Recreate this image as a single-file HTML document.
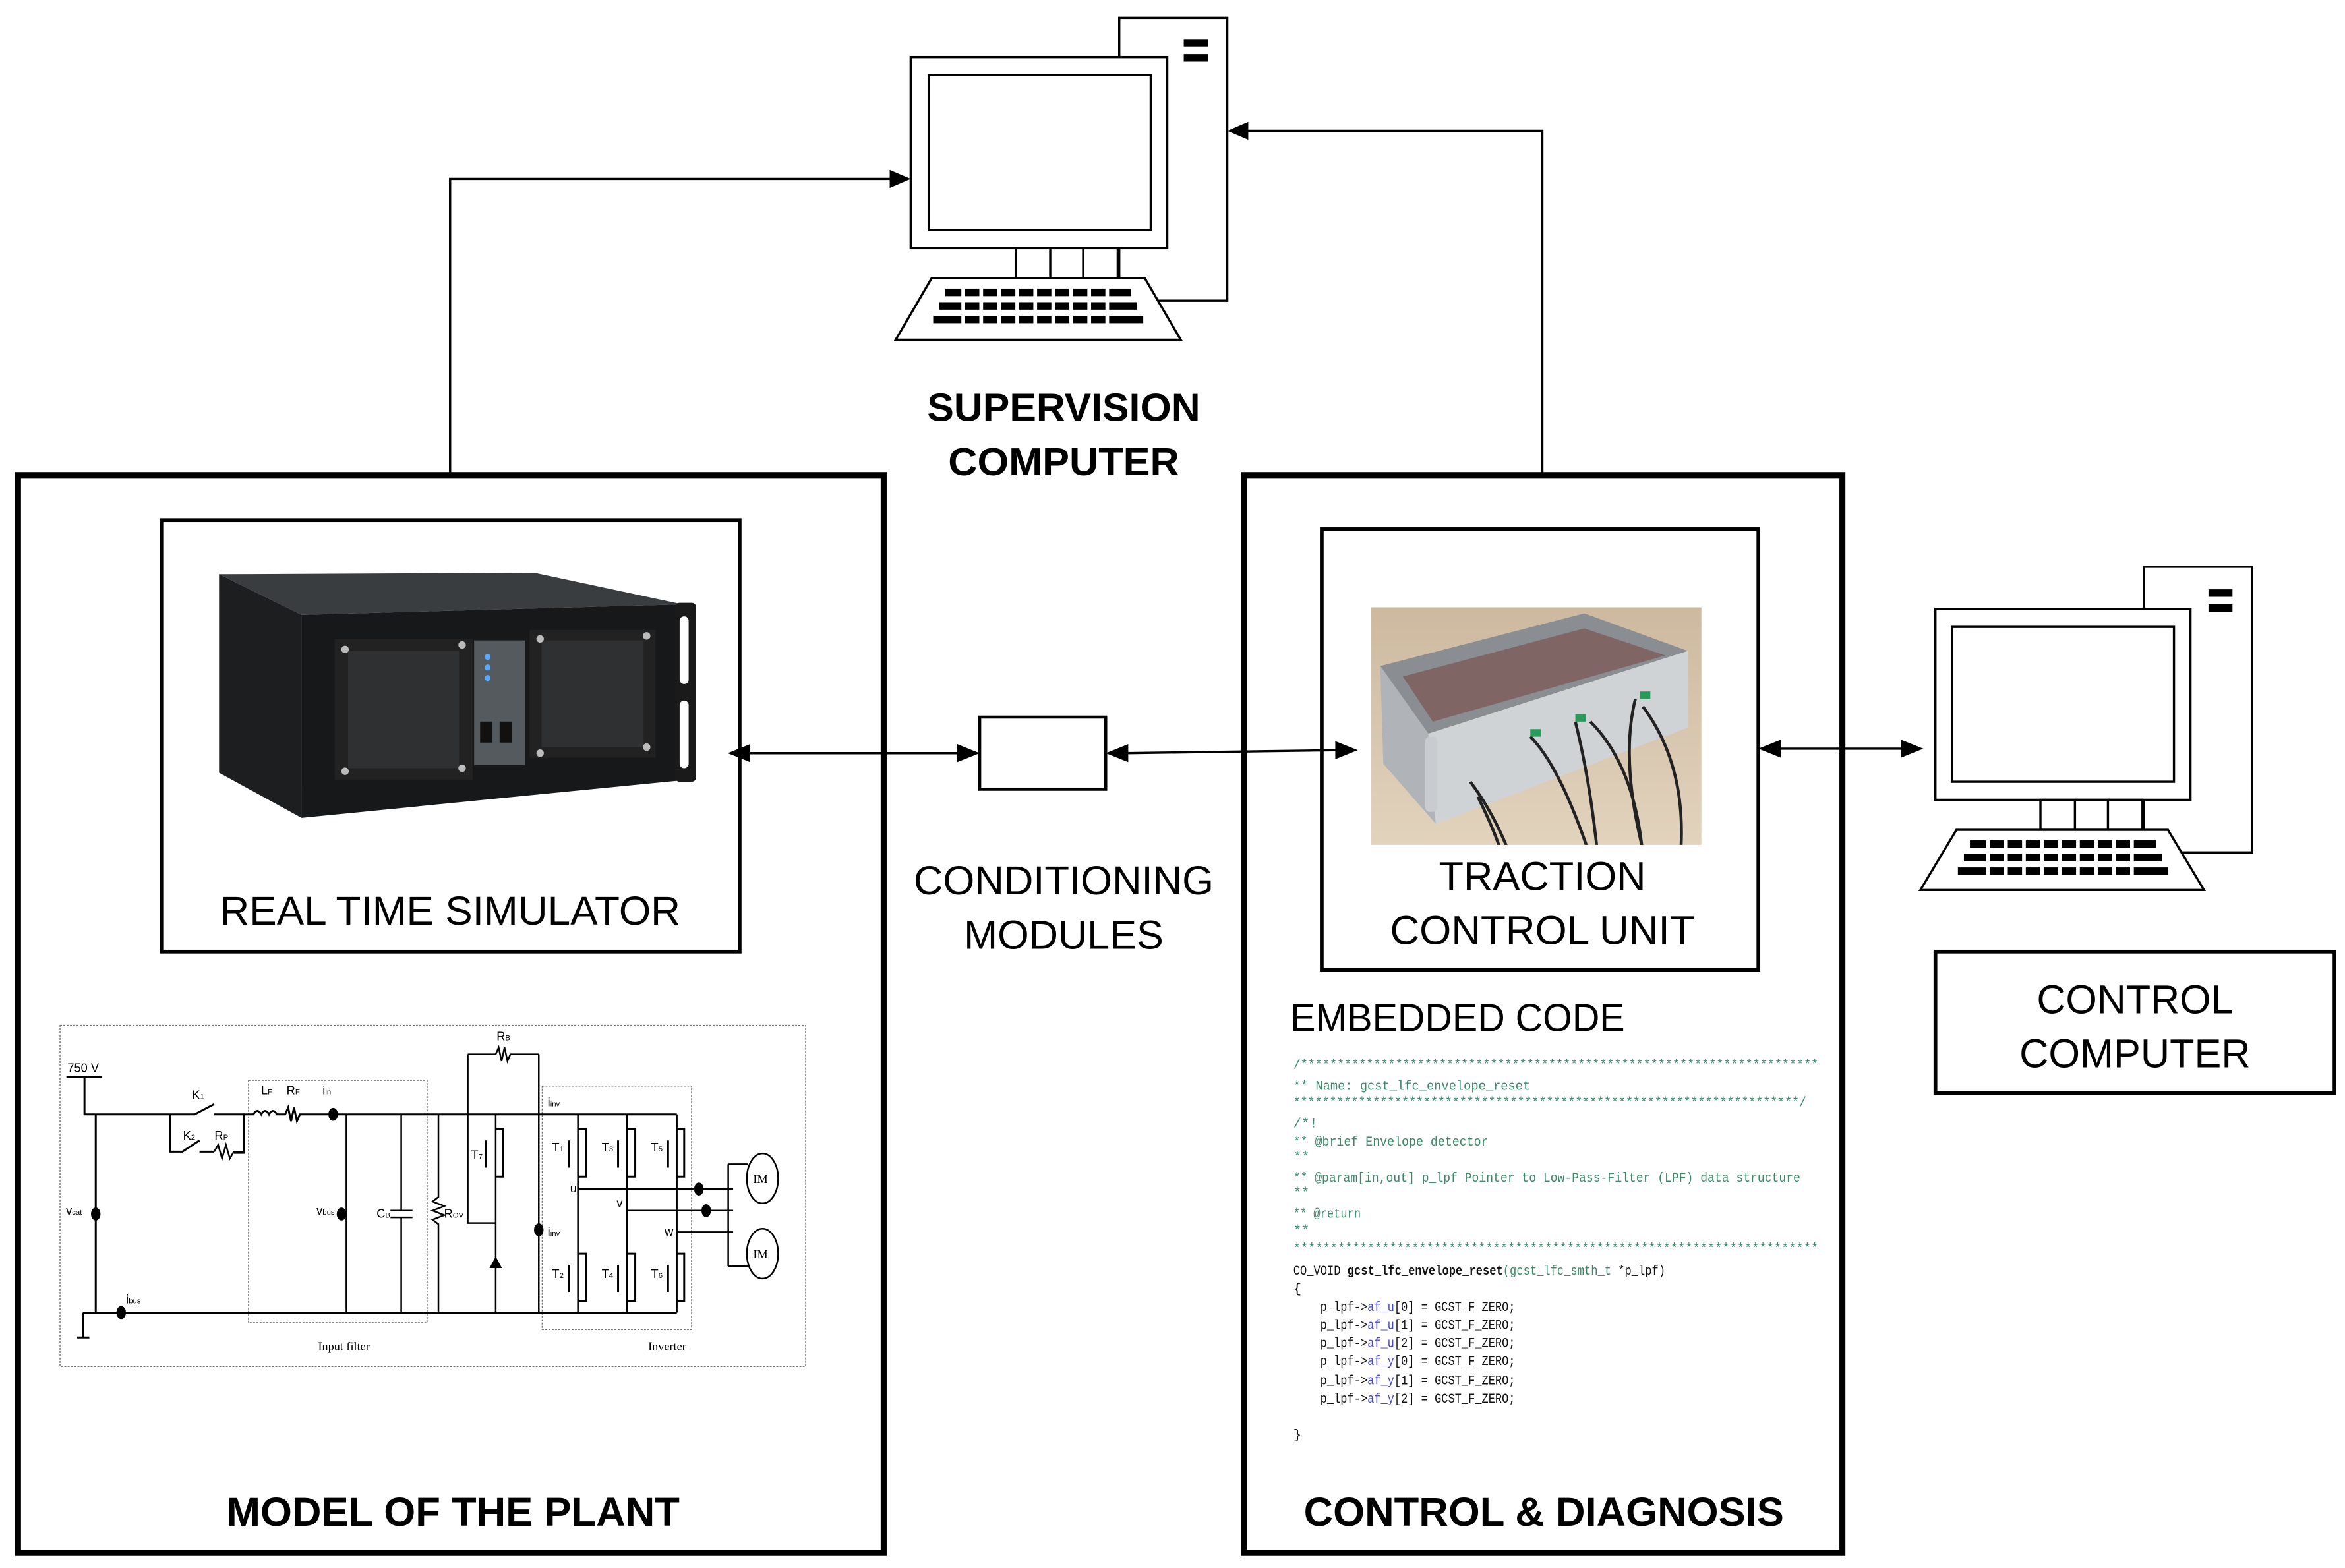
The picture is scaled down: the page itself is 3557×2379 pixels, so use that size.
<!DOCTYPE html>
<html><head><meta charset="utf-8"><style>
html,body{margin:0;padding:0;background:#fff;}
svg{display:block;}
text{font-family:"Liberation Sans",sans-serif;}
.c text{font-family:"Liberation Mono",monospace;font-size:9px;}
.g{fill:#3a8a6a}.k{fill:#111}.p{fill:#4848c0}
.ck path,.ck line,.ck rect,.ck ellipse,.ck polyline{vector-effect:non-scaling-stroke;}
</style></head><body>
<svg width="3557" height="2379" viewBox="0 0 1563 1043" preserveAspectRatio="none" xmlns="http://www.w3.org/2000/svg">
<rect x="0" y="0" width="1563" height="1043" fill="#fff"/>

<!-- Supervision computer -->
<g stroke="#000" stroke-width="1.5" fill="#fff">
  <rect x="746" y="12" width="72" height="188"/>
  <rect x="607" y="38" width="171" height="127"/>
  <rect x="619" y="50" width="148" height="103"/>
  <rect x="677" y="165" width="68" height="20"/>
  <line x1="700" y1="165" x2="700" y2="185"/><line x1="722" y1="165" x2="722" y2="185"/>
  <polygon points="621,185 763,185 787,226 597,226"/>
</g>
<rect x="789" y="26" width="16" height="5" fill="#000"/><rect x="789" y="36" width="16" height="5" fill="#000"/>
<g fill="#000">
  <rect x="630" y="192" width="124" height="5"/><rect x="626" y="201" width="132" height="5"/><rect x="622" y="210" width="140" height="5"/>
</g>
<g stroke="#fff" stroke-width="2.5">
  <line x1="642" y1="190" x2="642" y2="216"/><line x1="654" y1="190" x2="654" y2="216"/><line x1="666" y1="190" x2="666" y2="216"/><line x1="678" y1="190" x2="678" y2="216"/><line x1="690" y1="190" x2="690" y2="216"/><line x1="702" y1="190" x2="702" y2="216"/><line x1="714" y1="190" x2="714" y2="216"/><line x1="726" y1="190" x2="726" y2="216"/><line x1="738" y1="190" x2="738" y2="216"/>
</g>
<text x="709" y="280" font-size="26" font-weight="bold" text-anchor="middle" textLength="182" lengthAdjust="spacingAndGlyphs">SUPERVISION</text>
<text x="709" y="316" font-size="26" font-weight="bold" text-anchor="middle" textLength="154" lengthAdjust="spacingAndGlyphs">COMPUTER</text>

<g stroke="#000" stroke-width="1.5" fill="none">
  <polyline points="300,315 300,119 596,119"/>
  <polyline points="1028,315 1028,87 829,87"/>
  <line x1="498" y1="501" x2="640" y2="501"/>
  <line x1="750" y1="501" x2="892" y2="499"/>
  <line x1="1185" y1="498" x2="1268" y2="498"/>
</g>
<g fill="#000">
  <polygon points="607,119 593,113 593,125"/>
  <polygon points="818,87 832,81 832,93"/>
  <polygon points="485,501 500,495 500,507"/>
  <polygon points="653,501 638,495 638,507"/>
  <polygon points="737,501 752,495 752,507"/>
  <polygon points="905,499 890,493 890,505"/>
  <polygon points="1172,498 1187,492 1187,504"/>
  <polygon points="1282,498 1267,492 1267,504"/>
</g>

<rect x="12" y="316" width="577" height="717" fill="none" stroke="#000" stroke-width="4"/>
<rect x="829" y="316" width="399" height="717" fill="none" stroke="#000" stroke-width="4"/>

<rect x="108" y="346" width="385" height="287" fill="none" stroke="#000" stroke-width="2.5"/>
<polygon points="146,382 356,381 455,402 201,409" fill="#3a3d40"/>
<polygon points="146,382 201,409 201,544 146,514" fill="#1c1e20"/>
<polygon points="201,409 455,402 455,519 201,544" fill="#161819"/>
<rect x="450" y="401" width="14" height="119" rx="3" fill="#1a1a1a"/>
<rect x="453" y="410" width="6" height="45" rx="3" fill="#fff"/><rect x="453" y="466" width="6" height="45" rx="3" fill="#fff"/>
<rect x="223" y="425" width="92" height="94" fill="#222"/>
<rect x="232" y="433" width="74" height="78" fill="#2e3032"/>
<rect x="353" y="419" width="84" height="85" fill="#222"/>
<rect x="361" y="426" width="68" height="71" fill="#2e3032"/>
<rect x="316" y="426" width="34" height="83" fill="#555a5e"/>
<circle cx="325" cy="437" r="2" fill="#5af"/><circle cx="325" cy="444" r="2" fill="#5af"/><circle cx="325" cy="451" r="2" fill="#5af"/>
<rect x="320" y="480" width="8" height="14" fill="#111"/><rect x="333" y="480" width="8" height="14" fill="#111"/>
<g fill="#bbb"><circle cx="230" cy="432" r="2.5"/><circle cx="308" cy="429" r="2.5"/><circle cx="230" cy="513" r="2.5"/><circle cx="308" cy="511" r="2.5"/><circle cx="360" cy="425" r="2.5"/><circle cx="431" cy="423" r="2.5"/><circle cx="360" cy="501" r="2.5"/><circle cx="431" cy="497" r="2.5"/></g>
<text x="300" y="615" font-size="27" text-anchor="middle" textLength="307" lengthAdjust="spacingAndGlyphs">REAL TIME SIMULATOR</text>

<g class="ck" transform="translate(35.1,680.2) scale(0.3263,0.1507)" fill="none" stroke="#000" stroke-width="2.5">
  <rect x="15" y="12" width="1523" height="1506" stroke="#777" stroke-width="1.5" stroke-dasharray="3,2"/>
  <rect x="400" y="255" width="365" height="1070" stroke="#777" stroke-width="1.5" stroke-dasharray="3,2"/>
  <rect x="1000" y="280" width="305" height="1075" stroke="#777" stroke-width="1.5" stroke-dasharray="3,2"/>
  <path d="M28,240 H100 M65,240 L65,405 H290 L330,360 M330,405 H390 V575 H370 M240,405 V570 H265 L300,520 M300,570 H330" stroke-width="3"/>
  <path d="M330,570 l8,-30 l8,60 l8,-60 l8,60 l8,-30 H390" />
  <path d="M390,405 H410 q8,-30 16,0 q8,-30 16,0 q8,-30 16,0 H475 l6,-30 l6,60 l6,-60 l6,60 l6,-30 H1275" stroke-width="3"/>
  <path d="M88,405 V1280 M62,1280 H1275 M62,1280 V1390 M50,1390 H75" stroke-width="3"/>
  <path d="M600,405 V1280 M712,405 V830 M712,860 V1280 M690,830 H735 M690,860 H735 M788,405 V770 l-12,20 l24,20 l-24,20 l24,20 l-24,20 l12,20 V1280"/>
  <path d="M848,140 V885 H905 M848,140 H905 l6,-30 l6,60 l6,-60 l6,60 l6,-30 H993 M905,405 V1280 M993,140 V1280"/>
  <path d="M1073,405 V1280 M1173,405 V1280 M1275,405 V1280"/>
  <path d="M1073,735 H1390 M1173,830 H1390 M1275,925 H1390 M1380,625 V1075 M1380,625 H1420 M1380,1075 H1420"/>
  <ellipse cx="1450" cy="688" rx="32" ry="110"/>
  <ellipse cx="1450" cy="1020" rx="32" ry="110"/>
  <path d="M905,470 H920 V680 H905 M885,520 V640 M1073,470 H1090 V680 H1073 M1055,520 V640 M1173,470 H1190 V680 H1173 M1155,520 V640 M1275,470 H1290 V680 H1275 M1257,520 V640" stroke-width="3"/>
  <path d="M1073,1020 H1090 V1230 H1073 M1055,1070 V1190 M1173,1020 H1190 V1230 H1173 M1155,1070 V1190 M1275,1020 H1290 V1230 H1275 M1257,1070 V1190" stroke-width="3"/>
  <path d="M895,1080 H915 L905,1040 Z" fill="#000"/>
  <ellipse cx="88" cy="845" rx="8" ry="25" fill="#000"/><ellipse cx="590" cy="845" rx="8" ry="25" fill="#000"/>
  <ellipse cx="573" cy="405" rx="8" ry="25" fill="#000"/><ellipse cx="993" cy="915" rx="8" ry="25" fill="#000"/>
  <ellipse cx="140" cy="1280" rx="8" ry="25" fill="#000"/><ellipse cx="1320" cy="735" rx="8" ry="25" fill="#000"/><ellipse cx="1335" cy="830" rx="8" ry="25" fill="#000"/>
</g>
<g font-size="8" fill="#000">
  <text x="212" y="898" style="font-family:'Liberation Serif',serif">Input filter</text>
  <text x="432" y="898" style="font-family:'Liberation Serif',serif">Inverter</text>
  <text x="502" y="787" style="font-family:'Liberation Serif',serif">IM</text><text x="502" y="837" style="font-family:'Liberation Serif',serif">IM</text>
  <text x="331" y="692">R<tspan font-size="5">B</tspan></text>
  <text x="45" y="713">750 V</text>
  <text x="128" y="731">K<tspan font-size="5">1</tspan></text>
  <text x="122" y="758">K<tspan font-size="5">2</tspan></text>
  <text x="143" y="758">R<tspan font-size="5">P</tspan></text>
  <text x="174" y="728">L<tspan font-size="5">F</tspan></text>
  <text x="191" y="728">R<tspan font-size="5">F</tspan></text>
  <text x="215" y="728">i<tspan font-size="5">in</tspan></text>
  <text x="44" y="808">v<tspan font-size="5">cat</tspan></text>
  <text x="211" y="808">v<tspan font-size="5">bus</tspan></text>
  <text x="251" y="810">C<tspan font-size="5">B</tspan></text>
  <text x="296" y="810">R<tspan font-size="5">OV</tspan></text>
  <text x="314" y="771">T<tspan font-size="5">7</tspan></text>
  <text x="368" y="766">T<tspan font-size="5">1</tspan></text><text x="401" y="766">T<tspan font-size="5">3</tspan></text><text x="434" y="766">T<tspan font-size="5">5</tspan></text>
  <text x="368" y="850">T<tspan font-size="5">2</tspan></text><text x="401" y="850">T<tspan font-size="5">4</tspan></text><text x="434" y="850">T<tspan font-size="5">6</tspan></text>
  <text x="365" y="736">i<tspan font-size="5">inv</tspan></text>
  <text x="365" y="822">i<tspan font-size="5">inv</tspan></text>
  <text x="380" y="793">u</text><text x="411" y="803">v</text><text x="443" y="822">w</text>
  <text x="84" y="867">i<tspan font-size="5">bus</tspan></text>
</g>
<text x="302" y="1015" font-size="27" font-weight="bold" text-anchor="middle" textLength="302" lengthAdjust="spacingAndGlyphs">MODEL OF THE PLANT</text>

<rect x="653" y="477" width="84" height="48" fill="#fff" stroke="#000" stroke-width="2"/>
<text x="709" y="595" font-size="27" text-anchor="middle" textLength="200" lengthAdjust="spacingAndGlyphs">CONDITIONING</text>
<text x="709" y="631" font-size="27" text-anchor="middle" textLength="133" lengthAdjust="spacingAndGlyphs">MODULES</text>

<rect x="881" y="352" width="291" height="293" fill="none" stroke="#000" stroke-width="2.5"/>
<defs><linearGradient id="bg" x1="0" y1="0" x2="0" y2="1"><stop offset="0" stop-color="#cdb9a0"/><stop offset="1" stop-color="#e2d3bd"/></linearGradient>
<clipPath id="cp"><rect x="914" y="404" width="220" height="158"/></clipPath></defs>
<rect x="914" y="404" width="220" height="158" fill="url(#bg)"/>
<g clip-path="url(#cp)">
  <polygon points="920,443 1056,408 1125,433 952,488" fill="#8a8e92"/>
  <polygon points="935,450 1056,418 1110,436 955,480" fill="#7a4a48" opacity="0.6"/>
  <polygon points="920,443 952,488 957,548 922,508" fill="#b0b4b8"/>
  <polygon points="952,488 1125,433 1125,484 957,548" fill="#d0d3d6"/>
  <rect x="950" y="490" width="8" height="50" rx="3" fill="#c8ccd0"/>
  <g stroke="#222" stroke-width="2" fill="none">
    <path d="M980,520 q15,20 25,45"/><path d="M985,530 q10,20 15,35"/>
    <path d="M1020,490 q20,20 40,80"/><path d="M1050,480 q10,40 15,90"/><path d="M1060,480 q30,30 35,90"/><path d="M1090,465 q-10,40 5,100"/><path d="M1095,470 q30,40 25,100"/>
  </g>
  <rect x="1020" y="485" width="7" height="5" fill="#2a9a5a"/><rect x="1050" y="475" width="7" height="5" fill="#2a9a5a"/><rect x="1093" y="460" width="7" height="5" fill="#2a9a5a"/>
</g>
<text x="1028" y="592" font-size="27" text-anchor="middle" textLength="138" lengthAdjust="spacingAndGlyphs">TRACTION</text>
<text x="1028" y="628" font-size="27" text-anchor="middle" textLength="203" lengthAdjust="spacingAndGlyphs">CONTROL UNIT</text>

<text x="860" y="686" font-size="26" textLength="223" lengthAdjust="spacingAndGlyphs">EMBEDDED CODE</text>

<g class="c">
<text x="862" y="711" class="g" textLength="350" lengthAdjust="spacingAndGlyphs">/***********************************************************************</text>
<text x="862" y="725" class="g" textLength="158" lengthAdjust="spacingAndGlyphs">** Name:    gcst_lfc_envelope_reset</text>
<text x="862" y="736" class="g" textLength="342" lengthAdjust="spacingAndGlyphs">**********************************************************************/</text>
<text x="862" y="750" class="g">/*!</text>
<text x="862" y="762" class="g" textLength="130" lengthAdjust="spacingAndGlyphs">** @brief   Envelope detector</text>
<text x="862" y="772" class="g">**</text>
<text x="862" y="786" class="g" textLength="338" lengthAdjust="spacingAndGlyphs">** @param[in,out]   p_lpf   Pointer to Low-Pass-Filter (LPF) data structure</text>
<text x="862" y="796" class="g">**</text>
<text x="862" y="810" class="g" textLength="45" lengthAdjust="spacingAndGlyphs">** @return</text>
<text x="862" y="821" class="g">**</text>
<text x="862" y="833" class="g" textLength="350" lengthAdjust="spacingAndGlyphs">***********************************************************************</text>
<text x="862" y="848" class="k" textLength="248" lengthAdjust="spacingAndGlyphs">CO_VOID <tspan font-weight="bold">gcst_lfc_envelope_reset</tspan><tspan class="g">(gcst_lfc_smth_t</tspan> *p_lpf)</text>
<text x="862" y="860" class="k">{</text>
<text x="880" y="872" class="k" textLength="130" lengthAdjust="spacingAndGlyphs">p_lpf-&gt;<tspan class="p">af_u</tspan>[0] = GCST_F_ZERO;</text>
<text x="880" y="884" class="k" textLength="130" lengthAdjust="spacingAndGlyphs">p_lpf-&gt;<tspan class="p">af_u</tspan>[1] = GCST_F_ZERO;</text>
<text x="880" y="896" class="k" textLength="130" lengthAdjust="spacingAndGlyphs">p_lpf-&gt;<tspan class="p">af_u</tspan>[2] = GCST_F_ZERO;</text>
<text x="880" y="908" class="k" textLength="130" lengthAdjust="spacingAndGlyphs">p_lpf-&gt;<tspan class="p">af_y</tspan>[0] = GCST_F_ZERO;</text>
<text x="880" y="921" class="k" textLength="130" lengthAdjust="spacingAndGlyphs">p_lpf-&gt;<tspan class="p">af_y</tspan>[1] = GCST_F_ZERO;</text>
<text x="880" y="933" class="k" textLength="130" lengthAdjust="spacingAndGlyphs">p_lpf-&gt;<tspan class="p">af_y</tspan>[2] = GCST_F_ZERO;</text>
<text x="862" y="957" class="k">}</text>
</g>
<text x="1029" y="1015" font-size="27" font-weight="bold" text-anchor="middle" textLength="320" lengthAdjust="spacingAndGlyphs">CONTROL &amp; DIAGNOSIS</text>

<g stroke="#000" stroke-width="1.5" fill="#fff">
  <rect x="1429" y="377" width="72" height="190"/>
  <rect x="1290" y="405" width="170" height="127"/>
  <rect x="1301" y="417" width="148" height="103"/>
  <rect x="1360" y="532" width="68" height="20"/>
  <line x1="1383" y1="532" x2="1383" y2="552"/><line x1="1405" y1="532" x2="1405" y2="552"/>
  <polygon points="1304,552 1445,552 1469,592 1280,592"/>
</g>
<rect x="1472" y="392" width="16" height="5" fill="#000"/><rect x="1472" y="402" width="16" height="5" fill="#000"/>
<g fill="#000">
  <rect x="1313" y="559" width="124" height="5"/><rect x="1309" y="568" width="132" height="5"/><rect x="1305" y="577" width="140" height="5"/>
</g>
<g stroke="#fff" stroke-width="2.5">
  <line x1="1325" y1="557" x2="1325" y2="583"/><line x1="1337" y1="557" x2="1337" y2="583"/><line x1="1349" y1="557" x2="1349" y2="583"/><line x1="1361" y1="557" x2="1361" y2="583"/><line x1="1373" y1="557" x2="1373" y2="583"/><line x1="1385" y1="557" x2="1385" y2="583"/><line x1="1397" y1="557" x2="1397" y2="583"/><line x1="1409" y1="557" x2="1409" y2="583"/><line x1="1421" y1="557" x2="1421" y2="583"/>
</g>
<rect x="1290" y="633" width="266" height="94" fill="none" stroke="#000" stroke-width="2.5"/>
<text x="1423" y="674" font-size="27" text-anchor="middle" textLength="131" lengthAdjust="spacingAndGlyphs">CONTROL</text>
<text x="1423" y="710" font-size="27" text-anchor="middle" textLength="154" lengthAdjust="spacingAndGlyphs">COMPUTER</text>
</svg>
</body></html>
